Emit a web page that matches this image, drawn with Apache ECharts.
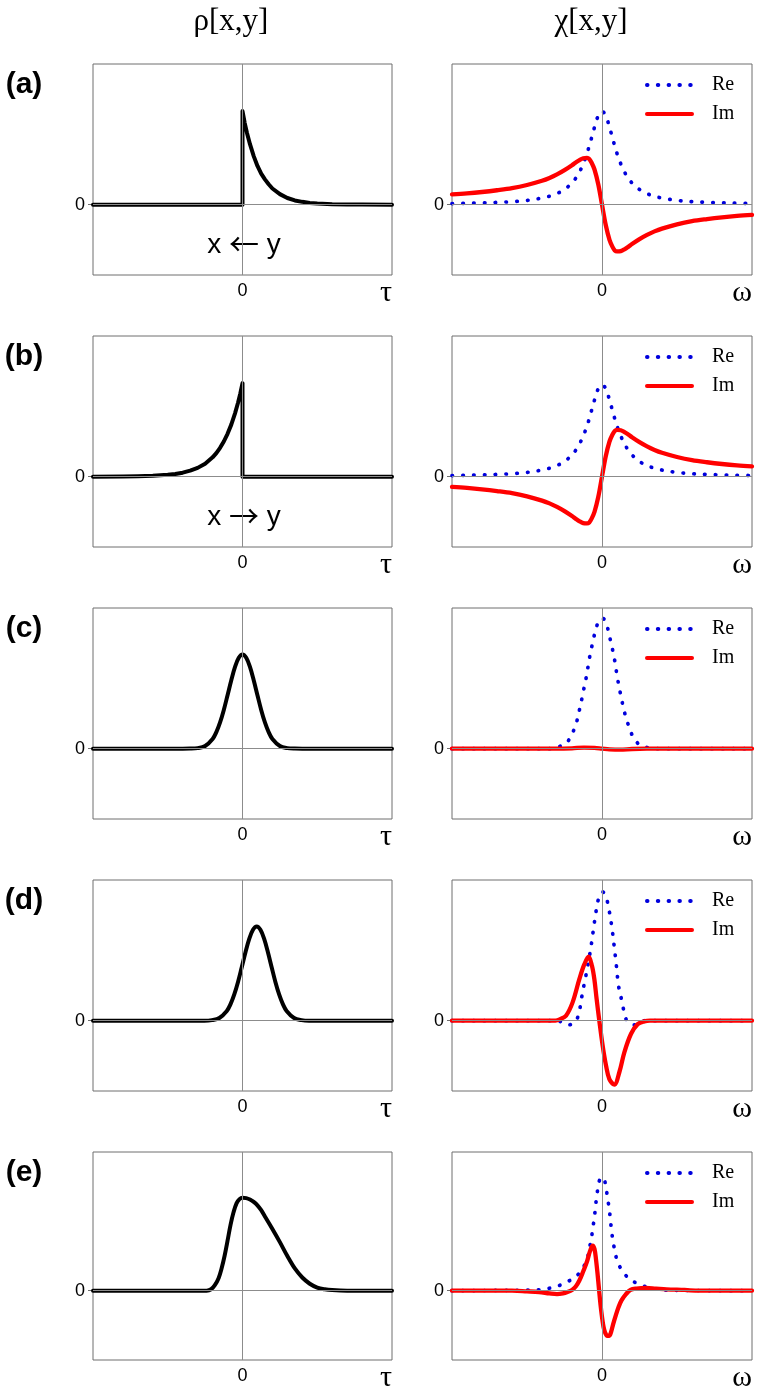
<!DOCTYPE html>
<html><head><meta charset="utf-8">
<script src="https://cdn.jsdelivr.net/npm/echarts@6/dist/echarts.min.js"></script>
<style>html,body{margin:0;padding:0;background:#fff}#c{width:757px;height:1393px}</style>
</head><body><div id="c"></div><script>
// ---------- data ----------
const panelTags = ['(a)', '(b)', '(c)', '(d)', '(e)'];
const columnTitles = ['ρ[x,y]', 'χ[x,y]'];
const axisNames = ['τ', 'ω'];
const arrowNotes = ['←', '→'];
const seriesNames = ['Re', 'Im'];

// left column: rho[x,y] vs tau
const rhoA = [[-10,0],[0,0],[0,1.33],[0.15,1.16],[0.3,1.02],[0.5,0.86],[0.75,0.69],[1,0.55],[1.25,0.44],[1.5,0.36],[1.75,0.29],[2,0.23],[2.5,0.15],[3,0.095],[3.5,0.06],[4,0.04],[4.5,0.025],[5,0.016],[6,0.007],[7,0.003],[8,0.001],[10,0]];
const rhoB = [[-10,0],[-8,0.002],[-7,0.005],[-6,0.012],[-5,0.026],[-4.5,0.038],[-4,0.057],[-3.5,0.085],[-3,0.125],[-2.5,0.185],[-2,0.275],[-1.75,0.335],[-1.5,0.41],[-1.25,0.5],[-1,0.61],[-0.75,0.74],[-0.5,0.9],[-0.3,1.05],[-0.15,1.18],[0,1.33],[0,0],[10,0]];
const rhoC = [[-10,0],[-4,0],[-3.5,0.001],[-3,0.008],[-2.5,0.038],[-2,0.138],[-1.75,0.235],[-1.5,0.373],[-1.25,0.551],[-1,0.76],[-0.75,0.973],[-0.5,1.163],[-0.25,1.293],[0,1.34],[0.25,1.293],[0.5,1.163],[0.75,0.973],[1,0.76],[1.25,0.551],[1.5,0.373],[1.75,0.235],[2,0.138],[2.5,0.038],[3,0.008],[3.5,0.001],[4,0],[10,0]];
const rhoD = [[-10,0],[-2.55,0],[-2.05,0.008],[-1.55,0.038],[-1.05,0.138],[-0.8,0.235],[-0.55,0.373],[-0.3,0.551],[-0.05,0.76],[0.2,0.973],[0.45,1.163],[0.7,1.293],[0.95,1.34],[1.2,1.293],[1.45,1.163],[1.7,0.973],[1.95,0.76],[2.2,0.551],[2.45,0.373],[2.7,0.235],[2.95,0.138],[3.45,0.038],[3.95,0.008],[4.45,0],[10,0]];
const rhoE = [[-10,0],[-2.4,0],[-2.1,0.02],[-1.85,0.08],[-1.6,0.18],[-1.4,0.32],[-1.2,0.5],[-1,0.72],[-0.8,0.95],[-0.6,1.13],[-0.4,1.26],[-0.2,1.32],[0,1.34],[0.25,1.335],[0.5,1.315],[0.75,1.28],[1,1.23],[1.25,1.16],[1.5,1.07],[2,0.89],[2.5,0.7],[3,0.5],[3.5,0.32],[4,0.19],[4.5,0.1],[5,0.045],[5.5,0.02],[6,0.008],[7,0],[10,0]];

// right column: chi[x,y] vs omega
const reA = [[-10,0.016],[-9,0.02],[-8,0.025],[-7,0.032],[-6,0.043],[-5,0.061],[-4,0.094],[-3.5,0.12],[-3,0.158],[-2.5,0.216],[-2,0.309],[-1.75,0.377],[-1.5,0.465],[-1.25,0.581],[-1,0.728],[-0.75,0.908],[-0.5,1.102],[-0.25,1.265],[0,1.33],[0.25,1.265],[0.5,1.102],[0.75,0.908],[1,0.728],[1.25,0.581],[1.5,0.465],[1.75,0.377],[2,0.309],[2.5,0.216],[3,0.158],[3.5,0.12],[4,0.094],[5,0.061],[6,0.043],[7,0.032],[8,0.025],[9,0.02],[10,0.016]];
const imA = [[-10,0.145],[-9,0.16],[-8,0.18],[-7,0.205],[-6,0.235],[-5,0.28],[-4,0.34],[-3.5,0.38],[-3,0.43],[-2.5,0.49],[-2,0.56],[-1.75,0.6],[-1.5,0.635],[-1.25,0.66],[-1,0.665],[-0.85,0.65],[-0.7,0.6],[-0.5,0.5],[-0.25,0.29],[0,0],[0.25,-0.29],[0.5,-0.5],[0.7,-0.6],[0.85,-0.65],[1,-0.665],[1.25,-0.66],[1.5,-0.635],[1.75,-0.6],[2,-0.56],[2.5,-0.49],[3,-0.43],[3.5,-0.38],[4,-0.34],[5,-0.28],[6,-0.235],[7,-0.205],[8,-0.18],[9,-0.16],[10,-0.145]];
const reB = [[-10,0.016],[-9,0.02],[-8,0.025],[-7,0.032],[-6,0.043],[-5,0.061],[-4,0.094],[-3.5,0.12],[-3,0.158],[-2.5,0.216],[-2,0.309],[-1.75,0.377],[-1.5,0.465],[-1.25,0.58],[-1,0.72],[-0.75,0.9],[-0.5,1.09],[-0.25,1.25],[0,1.31],[0.25,1.25],[0.5,1.09],[0.75,0.9],[1,0.72],[1.25,0.58],[1.5,0.465],[1.75,0.377],[2,0.309],[2.5,0.216],[3,0.158],[3.5,0.12],[4,0.094],[5,0.061],[6,0.043],[7,0.032],[8,0.025],[9,0.02],[10,0.016]];
const imB = [[-10,-0.145],[-9,-0.16],[-8,-0.18],[-7,-0.205],[-6,-0.235],[-5,-0.28],[-4,-0.34],[-3.5,-0.38],[-3,-0.43],[-2.5,-0.49],[-2,-0.56],[-1.75,-0.6],[-1.5,-0.635],[-1.25,-0.66],[-1,-0.665],[-0.85,-0.65],[-0.7,-0.6],[-0.5,-0.5],[-0.25,-0.29],[0,0],[0.25,0.29],[0.5,0.5],[0.7,0.6],[0.85,0.65],[1,0.665],[1.25,0.66],[1.5,0.635],[1.75,0.6],[2,0.56],[2.5,0.49],[3,0.43],[3.5,0.38],[4,0.34],[5,0.28],[6,0.235],[7,0.205],[8,0.18],[9,0.16],[10,0.145]];
const reC = [[-10,0],[-3.4,0],[-2.96,0.02],[-2.36,0.085],[-2,0.21],[-1.73,0.35],[-1.56,0.5],[-1.4,0.65],[-1.27,0.79],[-1.11,0.95],[-0.98,1.1],[-0.87,1.25],[-0.73,1.4],[-0.58,1.55],[-0.42,1.69],[-0.18,1.83],[0.05,1.85],[0.27,1.8],[0.44,1.65],[0.62,1.49],[0.76,1.35],[0.89,1.2],[1,1.04],[1.13,0.89],[1.27,0.74],[1.42,0.59],[1.6,0.44],[1.82,0.3],[2.07,0.17],[2.53,0.05],[3.16,0.01],[3.6,0],[10,0]];
const imC = [[-10,0],[-3,0],[-2,0.005],[-1.2,0.015],[-0.5,0.01],[0,0],[0.5,-0.01],[1.2,-0.015],[2,-0.005],[3,0],[10,0]];
const reD = [[-10,0],[-3,0],[-2.6,-0.03],[-2.3,-0.06],[-2,-0.05],[-1.8,-0.02],[-1.6,0.06],[-1.45,0.2],[-1.3,0.4],[-1.15,0.56],[-1,0.72],[-0.85,0.9],[-0.7,1.1],[-0.55,1.33],[-0.4,1.55],[-0.25,1.72],[-0.1,1.81],[0.05,1.83],[0.2,1.8],[0.35,1.7],[0.5,1.54],[0.65,1.34],[0.8,1.08],[0.95,0.8],[1.1,0.5],[1.3,0.3],[1.5,0.1],[1.65,0],[1.85,-0.04],[2.15,-0.06],[2.5,-0.04],[2.9,0],[10,0]];
const imD = [[-10,0],[-3.1,0],[-2.8,0.02],[-2.4,0.07],[-1.96,0.26],[-1.51,0.59],[-1.18,0.8],[-0.89,0.91],[-0.67,0.78],[-0.51,0.59],[-0.36,0.31],[-0.18,0],[0.04,-0.35],[0.27,-0.64],[0.49,-0.83],[0.82,-0.91],[1.16,-0.73],[1.49,-0.45],[1.93,-0.19],[2.38,-0.05],[2.82,-0.01],[3.2,0],[10,0]];
const reE = [[-10,0],[-6,0.005],[-5,0.008],[-4.2,0.012],[-3.6,0.03],[-2.9,0.07],[-2.3,0.13],[-1.75,0.2],[-1.3,0.32],[-1,0.45],[-0.84,0.61],[-0.7,0.77],[-0.6,0.92],[-0.5,1.07],[-0.42,1.24],[-0.33,1.39],[-0.22,1.55],[-0.05,1.63],[0.09,1.63],[0.27,1.48],[0.38,1.32],[0.49,1.17],[0.56,1.02],[0.64,0.86],[0.73,0.72],[0.87,0.56],[1.04,0.41],[1.38,0.28],[1.82,0.17],[2.5,0.09],[3.6,0.02],[5,0.005],[10,0]];
const imE = [[-10,0],[-6,0],[-5,-0.01],[-4.2,-0.02],[-3.5,-0.04],[-3,-0.05],[-2.6,-0.04],[-2.3,-0.02],[-2,0.01],[-1.75,0.06],[-1.5,0.15],[-1.25,0.28],[-1,0.42],[-0.8,0.57],[-0.62,0.65],[-0.5,0.6],[-0.4,0.45],[-0.3,0.25],[-0.2,0.02],[-0.1,-0.2],[0,-0.38],[0.1,-0.52],[0.2,-0.6],[0.35,-0.65],[0.49,-0.65],[0.6,-0.6],[0.75,-0.48],[0.93,-0.35],[1.1,-0.24],[1.3,-0.14],[1.6,-0.05],[1.9,0.01],[2.3,0.03],[2.9,0.04],[3.6,0.03],[4.3,0.02],[5.5,0.01],[6.5,0],[10,0]];

const rhoCurves = [rhoA, rhoB, rhoC, rhoD, rhoE];
const reCurves = [reA, reB, reC, reD, reE];
const imCurves = [imA, imB, imC, imD, imE];

// ---------- layout ----------
const rowTops = [64, 336, 608, 880, 1152];
const rowH = 211;
const cols = [{left: 93, width: 299}, {left: 452, width: 300}];
const SANS = '"Liberation Sans", Arial, sans-serif';
const SERIF = '"Liberation Serif", "Times New Roman", serif';

const grid = [], xAxis = [], yAxis = [], series = [], legend = [], graphic = [];

function addPanel(gi, row, col) {
  grid.push({left: cols[col].left, top: rowTops[row], width: cols[col].width, height: rowH,
    show: true, borderColor: '#6e6e6e', borderWidth: 1, backgroundColor: 'transparent', containLabel: false});
  xAxis.push({type: 'value', gridIndex: gi, min: -10, max: 10,
    axisLine: {show: false, onZero: false}, axisTick: {show: false}, splitLine: {show: false},
    axisLabel: {customValues: [0], fontFamily: SANS, fontSize: 18, color: '#000', margin: 7},
    name: axisNames[col], nameLocation: 'end', nameGap: 0,
    nameTextStyle: {fontFamily: SERIF, fontSize: 30, color: '#000', align: 'right', verticalAlign: 'top', padding: [3, 0, 0, 0]}});
  yAxis.push({type: 'value', gridIndex: gi, min: -1, max: 2, interval: 1,
    axisLine: {show: false, onZero: false}, splitLine: {show: false},
    axisTick: {show: true, customValues: [0], length: 5, lineStyle: {color: '#6e6e6e'}},
    axisLabel: {customValues: [0], fontFamily: SANS, fontSize: 18, color: '#000', margin: 8}});
  series.push({type: 'line', xAxisIndex: gi, yAxisIndex: gi, data: [], z: 1, silent: true, animation: false,
    markLine: {silent: true, animation: false, symbol: ['none', 'none'], label: {show: false},
      lineStyle: {color: '#8c8c8c', width: 1, type: 'solid'}, emphasis: {disabled: true},
      data: [{yAxis: 0}, {xAxis: 0}]}});
}

for (let r = 0; r < 5; r++) {
  const gl = 2 * r, gr = 2 * r + 1;
  addPanel(gl, r, 0);
  addPanel(gr, r, 1);
  series.push({type: 'line', name: 'rho', xAxisIndex: gl, yAxisIndex: gl, data: rhoCurves[r],
    symbol: 'none', showSymbol: false, smooth: r >= 2 ? 0.35 : false, z: 3, animation: false,
    lineStyle: {color: '#000', width: 4, join: 'round', cap: 'round'}});
  series.push({type: 'line', name: seriesNames[0], xAxisIndex: gr, yAxisIndex: gr, data: reCurves[r],
    symbol: 'none', showSymbol: false, smooth: 0.35, z: 3, animation: false,
    lineStyle: {color: '#0000dd', width: 3.7, type: [0.5, 10.3], cap: 'round'}});
  series.push({type: 'line', name: seriesNames[1], xAxisIndex: gr, yAxisIndex: gr, data: imCurves[r],
    symbol: 'none', showSymbol: false, smooth: 0.35, z: 4, animation: false,
    lineStyle: {color: '#ff0000', width: 4.3, join: 'round', cap: 'round'}});
  legend.push({data: seriesNames, orient: 'vertical', left: 645, top: rowTops[r] + 11, padding: 0,
    itemWidth: 45, itemHeight: 14, itemGap: 9, selectedMode: false,
    lineStyle: {width: 4, cap: 'round'}, itemStyle: {opacity: 0, color: 'rgba(0,0,0,0)', borderWidth: 0},
    textStyle: {fontFamily: SERIF, fontSize: 20, color: '#000', padding: [0, 0, 0, 15]}});
  graphic.push({type: 'text', silent: true, style: {text: panelTags[r], x: 24, y: rowTops[r] + 21,
    textAlign: 'center', textVerticalAlign: 'middle', align: 'center', verticalAlign: 'middle',
    font: 'bold 30px ' + SANS, fill: '#000'}});
  if (r < 2) {
    graphic.push({type: 'text', silent: true, style: {
      text: 'x {a|' + arrowNotes[r] + '} y', x: 244, y: rowTops[r] + 181,
      textAlign: 'center', textVerticalAlign: 'middle', align: 'center', verticalAlign: 'middle',
      font: '28px ' + SANS, fill: '#000',
      rich: {a: {fontFamily: '"Noto Sans CJK SC"', fontSize: 30, fill: '#000', padding: [0, 0, 3, 0]}}}});
  }
}
graphic.push({type: 'text', silent: true, style: {text: columnTitles[0], x: 231, y: 22,
  textAlign: 'center', textVerticalAlign: 'middle', align: 'center', verticalAlign: 'middle', font: '31px ' + SERIF, fill: '#000'}});
graphic.push({type: 'text', silent: true, style: {text: columnTitles[1], x: 591, y: 22,
  textAlign: 'center', textVerticalAlign: 'middle', align: 'center', verticalAlign: 'middle', font: '31px ' + SERIF, fill: '#000'}});

const chart = echarts.init(document.getElementById('c'), null, {renderer: 'canvas'});
chart.setOption({backgroundColor: '#fff', animation: false, grid, xAxis, yAxis, series, legend, graphic});
</script></body></html>
